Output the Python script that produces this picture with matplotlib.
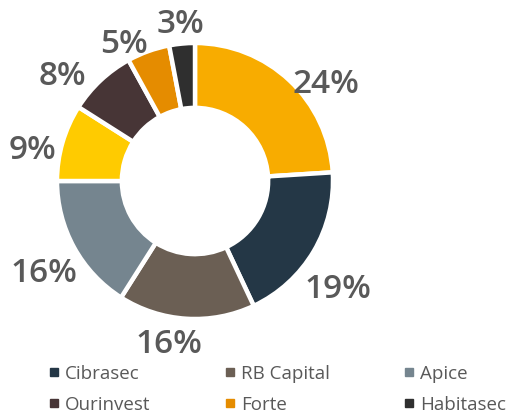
import numpy as np
import matplotlib.pyplot as plt
import matplotlib.transforms as mtransforms
from matplotlib.lines import Line2D

# slices clockwise from 12 o'clock; two slices have no visible legend entry
names = [None, "Cibrasec", "RB Capital", "Apice", None, "Ourinvest", "Forte", "Habitasec"]
shares = [24, 19, 16, 16, 9, 8, 5, 3]
colors = ["#F8AC00", "#243746", "#6B5F54", "#75858F", "#FFCB00", "#473536", "#E58C00", "#2F2F2F"]
legend_order = ["Cibrasec", "RB Capital", "Apice", "Ourinvest", "Forte", "Habitasec"]

plt.rcParams['font.family'] = ['Open Sans', 'DejaVu Sans']
txt = "#595959"

fig = plt.figure(figsize=(5.15, 4.19), dpi=100)
cx, cy, r = 195, 181, 138
W, H = 515, 419
ax = fig.add_axes([(cx - r) / W, (H - cy - r) / H, 2 * r / W, 2 * r / H])

wedges, _ = ax.pie(shares, colors=colors, startangle=90, counterclock=False, radius=1,
                   wedgeprops=dict(width=0.47, edgecolor="white", linewidth=3.2))
ax.set_xlim(-1, 1)
ax.set_ylim(-1, 1)

# hand placement of the value labels, pixel nudges (right, down) from 1.2*r
nudge = [(18, 24), (0, 24), (-16, -2), (-6, 13), (-3, 16), (-19, 16), (-15, 19), (1, 8)]
for w, v, (dx, dy) in zip(wedges, shares, nudge):
    a = np.deg2rad((w.theta1 + w.theta2) / 2)
    tr = mtransforms.offset_copy(ax.transData, fig=fig, x=dx, y=-dy, units="dots")
    ax.text(1.2 * np.cos(a), 1.2 * np.sin(a), f"{v}%", transform=tr,
            ha="center", va="center", fontsize=24, color=txt, fontweight=600)

handles = []
for n in legend_order:
    c = colors[names.index(n)]
    handles.append(Line2D([], [], marker="s", linestyle="", markersize=5.5,
                          markerfacecolor=c, markeredgecolor=c, label=n))
# legend fills column by column, so interleave to read row by row
handles = [handles[i] for i in (0, 3, 1, 4, 2, 5)]
leg = fig.legend(handles=handles, ncol=3, loc="upper left",
                 bbox_to_anchor=(41 / W, 1 - 357 / H), frameon=False,
                 fontsize=13.5, handlelength=0.6, handletextpad=0.3,
                 columnspacing=3.9, labelspacing=0.7, borderaxespad=0)
for t in leg.get_texts():
    t.set_color(txt)

fig.savefig("out.png", dpi=100)
